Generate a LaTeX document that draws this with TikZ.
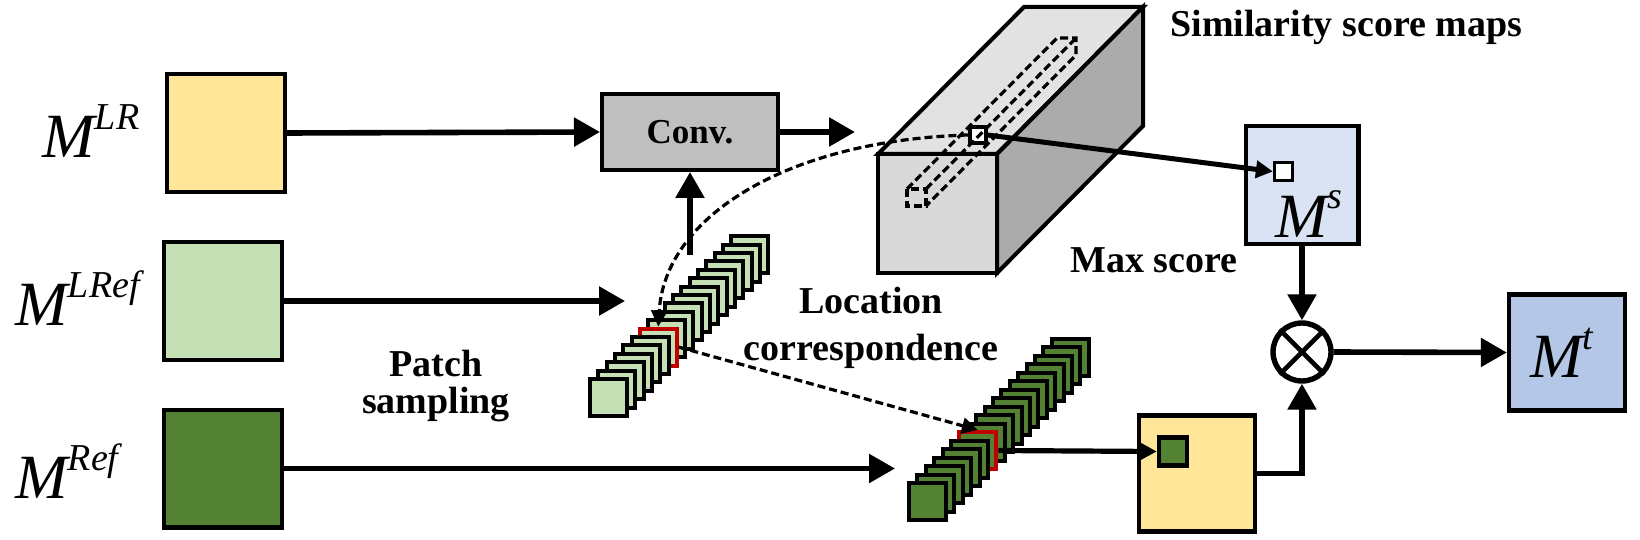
\documentclass[tikz,border=0pt]{standalone}
\usepackage{fontspec}
\setmainfont{Liberation Serif}
\usetikzlibrary{arrows.meta}
\definecolor{yel}{HTML}{FFE699}
\definecolor{lgr}{HTML}{C5E0B4}
\definecolor{dgr}{HTML}{548235}
\definecolor{convgray}{HTML}{BFBFBF}
\definecolor{cfront}{HTML}{D9D9D9}
\definecolor{ctop}{HTML}{E2E2E2}
\definecolor{cside}{HTML}{ABABAB}
\definecolor{msblue}{HTML}{DAE3F3}
\definecolor{mtblue}{HTML}{B4C7E7}
\definecolor{redb}{HTML}{C00000}
\newcommand\Mlab[1]{{\fontsize{31.5}{36}\selectfont\itshape M}\raisebox{14pt}{\fontsize{19}{22}\selectfont\itshape #1}}
\tikzset{
 box/.style={draw, line width=2.2pt, minimum size=58.8pt, inner sep=0pt},
 arr/.style={line width=2.8pt, -{Triangle[length=13pt,width=14pt]}},
 arrs/.style={line width=2.6pt, -{Triangle[length=8.5pt,width=8.5pt]}},
 dsh/.style={line width=1.6pt, dash pattern=on 4pt off 2pt, -{Triangle[length=8pt,width=8pt]}},
 tube/.style={line width=1.6pt, dash pattern=on 4pt off 2pt},
 stk/.style={draw, line width=2pt, minimum size=18.5pt, inner sep=0pt},
 lab/.style={font=\fontsize{19}{22}\selectfont\bfseries, inner sep=0pt},
 mtxt/.style={anchor=base west, inner sep=0pt},
}
\begin{document}
\begin{tikzpicture}[x=0.5pt,y=-0.5pt]
\useasboundingbox (0,0) rectangle (1640,540);
% input maps
\node[box, fill=yel] (lr) at (226,133) {};
\node[box, fill=lgr] (lref) at (223,301) {};
\node[box, fill=dgr] (ref) at (223,468.5) {};
\node[mtxt] (tlr) at (42,158) {\Mlab{LR}};
\node[mtxt] (tlref) at (15,325) {\Mlab{LRef}};
\node[mtxt] (tref) at (15,498) {\Mlab{Ref}};
% conv
\node[draw, line width=2.2pt, fill=convgray, minimum width=87.8pt, minimum height=37.8pt, inner sep=0pt, font=\fontsize{17.5}{20}\selectfont\bfseries] (conv) at (690,132) {Conv.};
% cube
\draw[line width=2pt, fill=cfront] (878,154) rectangle (997,273);
\draw[line width=2pt, fill=ctop] (878,154) -- (1024,7) -- (1143,7) -- (997,154) -- cycle;
\draw[line width=2pt, fill=cside] (997,154) -- (1143,7) -- (1143,126) -- (997,273) -- cycle;
\node[draw, line width=1.6pt, fill=white, minimum size=8pt, inner sep=0pt] (wsq) at (978,135) {};
\draw[tube] (907,189) rectangle (926,206);
\draw[tube] (907,189) -- (1057,38) -- (1076,38) -- (1076,55) -- (926,206);
\draw[tube] (926,189) -- (1076,38);
% M^s
\node[draw, line width=2.2pt, fill=msblue, minimum width=56.3pt, minimum height=58.8pt, inner sep=0pt] (ms) at (1302,185) {};
\node[draw, line width=1.6pt, fill=white, minimum size=9pt, inner sep=0pt] (mss) at (1283.5,171.5) {};
\node[mtxt] (tms) at (1275,237) {\Mlab{s}};
% multiply
\node[circle, draw, line width=2.7pt, minimum size=29pt, inner sep=0pt] (circ) at (1302,352) {};
\draw[line width=2.3pt] (circ.north west) -- (circ.south east) (circ.north east) -- (circ.south west);
% M^t
\node[box, fill=mtblue, minimum size=58pt] (mt) at (1567,352.5) {};
\node[mtxt] (tmt) at (1530,377) {\Mlab{t}};
% bottom yellow
\node[box, fill=yel, minimum size=58pt] (yb) at (1197,473.5) {};
\node[draw, line width=2.2pt, fill=dgr, minimum size=14pt, inner sep=0pt] (gsq) at (1173,451.5) {};
% stacks
\foreach \i in {17,16,...,0}{
  \ifnum\i=6 \def\bc{redb}\else\def\bc{black}\fi
  \node[stk, draw=\bc, fill=lgr] (ls\i) at ({608.5+8.3*\i},{397.5-8.4*\i}) {};
}
\foreach \i in {17,16,...,0}{
  \ifnum\i=6 \def\bc{redb}\else\def\bc{black}\fi
  \node[stk, draw=\bc, fill=dgr] (ds\i) at ({927.5+8.4*\i},{501.5-8.5*\i}) {};
}
% connectors
\coordinate (convout) at (855,132);
\coordinate (lsin) at (625,301);
\coordinate (dsin) at (895,468.5);
\coordinate (convin) at (690,255);
\draw[arr] (lr.east) -- (conv.west);
\draw[arr] (conv.east) -- (convout);
\draw[arr] (lref.east) -- (lsin);
\draw[arr] (ref.east) -- (dsin);
\draw[arr] (convin) -- (conv.south);
\draw[line width=2.5pt, -{Triangle[length=8.5pt,width=8.5pt]}] (wsq.east) -- (mss.west);
\draw[arrs] (ds6.east) -- (gsq.west);
\draw[arr] (ms.south) -- (circ.north);
\draw[arr] (yb.east) -| (circ.south);
\draw[arr] (circ.east) -- (mt.west);
\draw[dsh] (wsq.west) .. controls (790,140) and (665,215) .. (ls6.north);
\draw[dsh] (ls6.east) -- (ds6.north);
% labels
\node[lab, anchor=base west] (tsim) at (1170,37) {Similarity score maps};
\node[lab, anchor=base west] (tmax) at (1070,272) {Max score};
\node[lab, anchor=base] (tloc1) at (871,314) {Location};
\node[lab, anchor=base] (tloc2) at (871,360) {correspondence};
\node[lab, anchor=base] (tpat1) at (436,376) {Patch};
\node[lab, anchor=base] (tpat2) at (436,413) {sampling};
\end{tikzpicture}
\end{document}
